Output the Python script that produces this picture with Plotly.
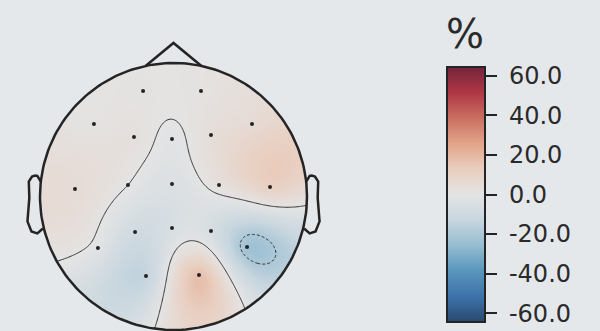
import numpy as np
import plotly.graph_objects as go

# EEG channels, 2-D sensor layout (head radius = 1) and values in %
channels = ["Fp1", "Fp2", "F7", "F8", "F3", "Fz", "F4", "T7", "C3", "Cz",
            "C4", "T8", "P3", "Pz", "P4", "P7", "P8", "O1", "O2"]
sensor_x = [-0.228, 0.206, -0.596, 0.588, -0.296, -0.011, 0.281, -0.738, -0.341, -0.011,
            0.341, 0.723, -0.288, -0.011, 0.281, -0.566, 0.551, -0.206, 0.191]
sensor_y = [0.790, 0.790, 0.543, 0.543, 0.446, 0.431, 0.461, 0.056, 0.086, 0.094,
            0.086, 0.071, -0.266, -0.236, -0.258, -0.386, -0.378, -0.596, -0.588]
values = [1.0, 1.5, 1.0, 6.0, 2.5, -1.2, 4.0, 5.0, 0.0, -4.0,
          2.5, 11.0, -9.0, -5.0, -6.0, -2.0, -23.0, -13.0, 17.0]

vlim = 64.5
cbar_ticks = [60, 40, 20, 0, -20, -40, -60]
cbar_labels = ["60.0", "40.0", "20.0", "0.0", "-20.0", "-40.0", "-60.0"]
contour_levels = [-20, 0]

BG = "#e5e8eb"
INK = "#242424"

# ---- interpolation onto a grid ----
# extra points on a ring outside the head take the mean of their two
# nearest sensors; a thin-plate spline then runs through all points
sx = np.array(sensor_x)
sy = np.array(sensor_y)
sv = np.array(values)

n_extra = 18
ring_r = 1.45
ang = np.linspace(0, 2 * np.pi, n_extra, endpoint=False)
ex = ring_r * np.cos(ang)
ey = ring_r * np.sin(ang)
ev = np.empty(n_extra)
for i in range(n_extra):
    d = np.hypot(sx - ex[i], sy - ey[i])
    ev[i] = sv[np.argsort(d)[:2]].mean()

px = np.concatenate([sx, ex])
py = np.concatenate([sy, ey])
pv = np.concatenate([sv, ev])


def tps(r):
    with np.errstate(divide="ignore", invalid="ignore"):
        out = r ** 2 * np.log(r)
    return np.nan_to_num(out)


n = len(px)
K = tps(np.hypot(px[:, None] - px[None, :], py[:, None] - py[None, :]))
P = np.column_stack([np.ones(n), px, py])
A = np.zeros((n + 3, n + 3))
A[:n, :n] = K
A[:n, n:] = P
A[n:, :n] = P.T
coef = np.linalg.solve(A, np.concatenate([pv, np.zeros(3)]))
w_rbf, a_lin = coef[:n], coef[n:]

res = 241
gx = np.linspace(-1, 1, res)
gy = np.linspace(-1, 1, res)
GX, GY = np.meshgrid(gx, gy)
Z = (tps(np.hypot(GX[..., None] - px, GY[..., None] - py)) @ w_rbf
     + a_lin[0] + a_lin[1] * GX + a_lin[2] * GY)
Z[np.hypot(GX, GY) > 1.0] = np.nan

# ---- colour map: RdBu_r with softened contrast ----
rdbu_r = ["#053061", "#2166ac", "#4393c3", "#92c5de", "#d1e5f0", "#f7f7f7",
          "#fddbc7", "#f4a582", "#d6604d", "#b2182b", "#67001f"]


def soften(hexcol):
    rgb = [int(hexcol[i:i + 2], 16) for i in (1, 3, 5)]
    rgb = [round(36 + 0.778 * c) for c in rgb]
    return "rgb({},{},{})".format(*rgb)


colorscale = [[i / (len(rdbu_r) - 1), soften(c)] for i, c in enumerate(rdbu_r)]

fig = go.Figure()

# colour bar: bar spans 65..322 px, title sits above it inside the bar length
title_h = 49
bar_top, bar_bot = 65, 322
fig.add_trace(go.Heatmap(
    x=gx, y=gy, z=Z, zmin=-vlim, zmax=vlim, colorscale=colorscale,
    zsmooth="best", hoverinfo="skip",
    colorbar=dict(
        x=447 / 600, xanchor="left", xpad=0,
        y=1 - (bar_top - title_h + bar_bot) / 2 / 331, yanchor="middle", ypad=0,
        thickness=38, len=bar_bot - bar_top + title_h, lenmode="pixels",
        outlinewidth=2, outlinecolor=INK,
        tickmode="array", tickvals=cbar_ticks,
        ticktext=["\u00a0" + t for t in cbar_labels],
        ticks="outside", ticklen=11, tickwidth=2, tickcolor=INK,
        tickfont=dict(family="DejaVu Sans", size=24, color="#2a2a2a"),
        title=dict(text="%", side="top",
                   font=dict(family="DejaVu Sans", size=40, color="#2a2a2a")),
    ),
))

for lvl in contour_levels:
    fig.add_trace(go.Contour(
        x=gx, y=gy, z=Z, showscale=False, hoverinfo="skip",
        contours=dict(start=lvl, end=lvl, size=1, coloring="none"),
        line=dict(color="#333333", width=1,
                  dash="solid" if lvl >= 0 else "3px,2px"),
    ))

# sensors
fig.add_trace(go.Scatter(
    x=sensor_x, y=sensor_y, mode="markers", text=channels,
    marker=dict(size=4, color=INK), hoverinfo="text",
))

# head outline, nose and ears
ll = np.linspace(0, 2 * np.pi, 201)
head_x = np.cos(ll)
head_y = np.sin(ll)
dxy = np.exp(np.arccos(np.deg2rad(12)) * 1j)
nose_x = np.array([-dxy.real, 0, dxy.real])
nose_y = np.array([dxy.imag, 1.15, dxy.imag])
ear_x = np.array([.497, .510, .518, .5299, .5419, .54, .547, .532, .510, .489]) * 2
ear_y = np.array([.0555, .0775, .0783, .0746, .0555, -.0055, -.0932, -.1313, -.1384, -.1199]) * 2

outline = dict(color=INK, width=2.5)
for ox, oy in [(head_x, head_y), (nose_x, nose_y), (ear_x, ear_y), (-ear_x, ear_y)]:
    fig.add_trace(go.Scatter(x=ox, y=oy, mode="lines", line=outline,
                             hoverinfo="skip"))

cx, cy, r = 173.5, 196.5, 133.5
fig.update_layout(
    width=600, height=331, margin=dict(l=0, r=0, t=0, b=0),
    paper_bgcolor=BG, plot_bgcolor=BG, showlegend=False,
    xaxis=dict(range=[-cx / r, (600 - cx) / r], visible=False, fixedrange=True),
    yaxis=dict(range=[(cy - 331) / r, cy / r], visible=False, fixedrange=True),
)

fig.write_html("out.html")
